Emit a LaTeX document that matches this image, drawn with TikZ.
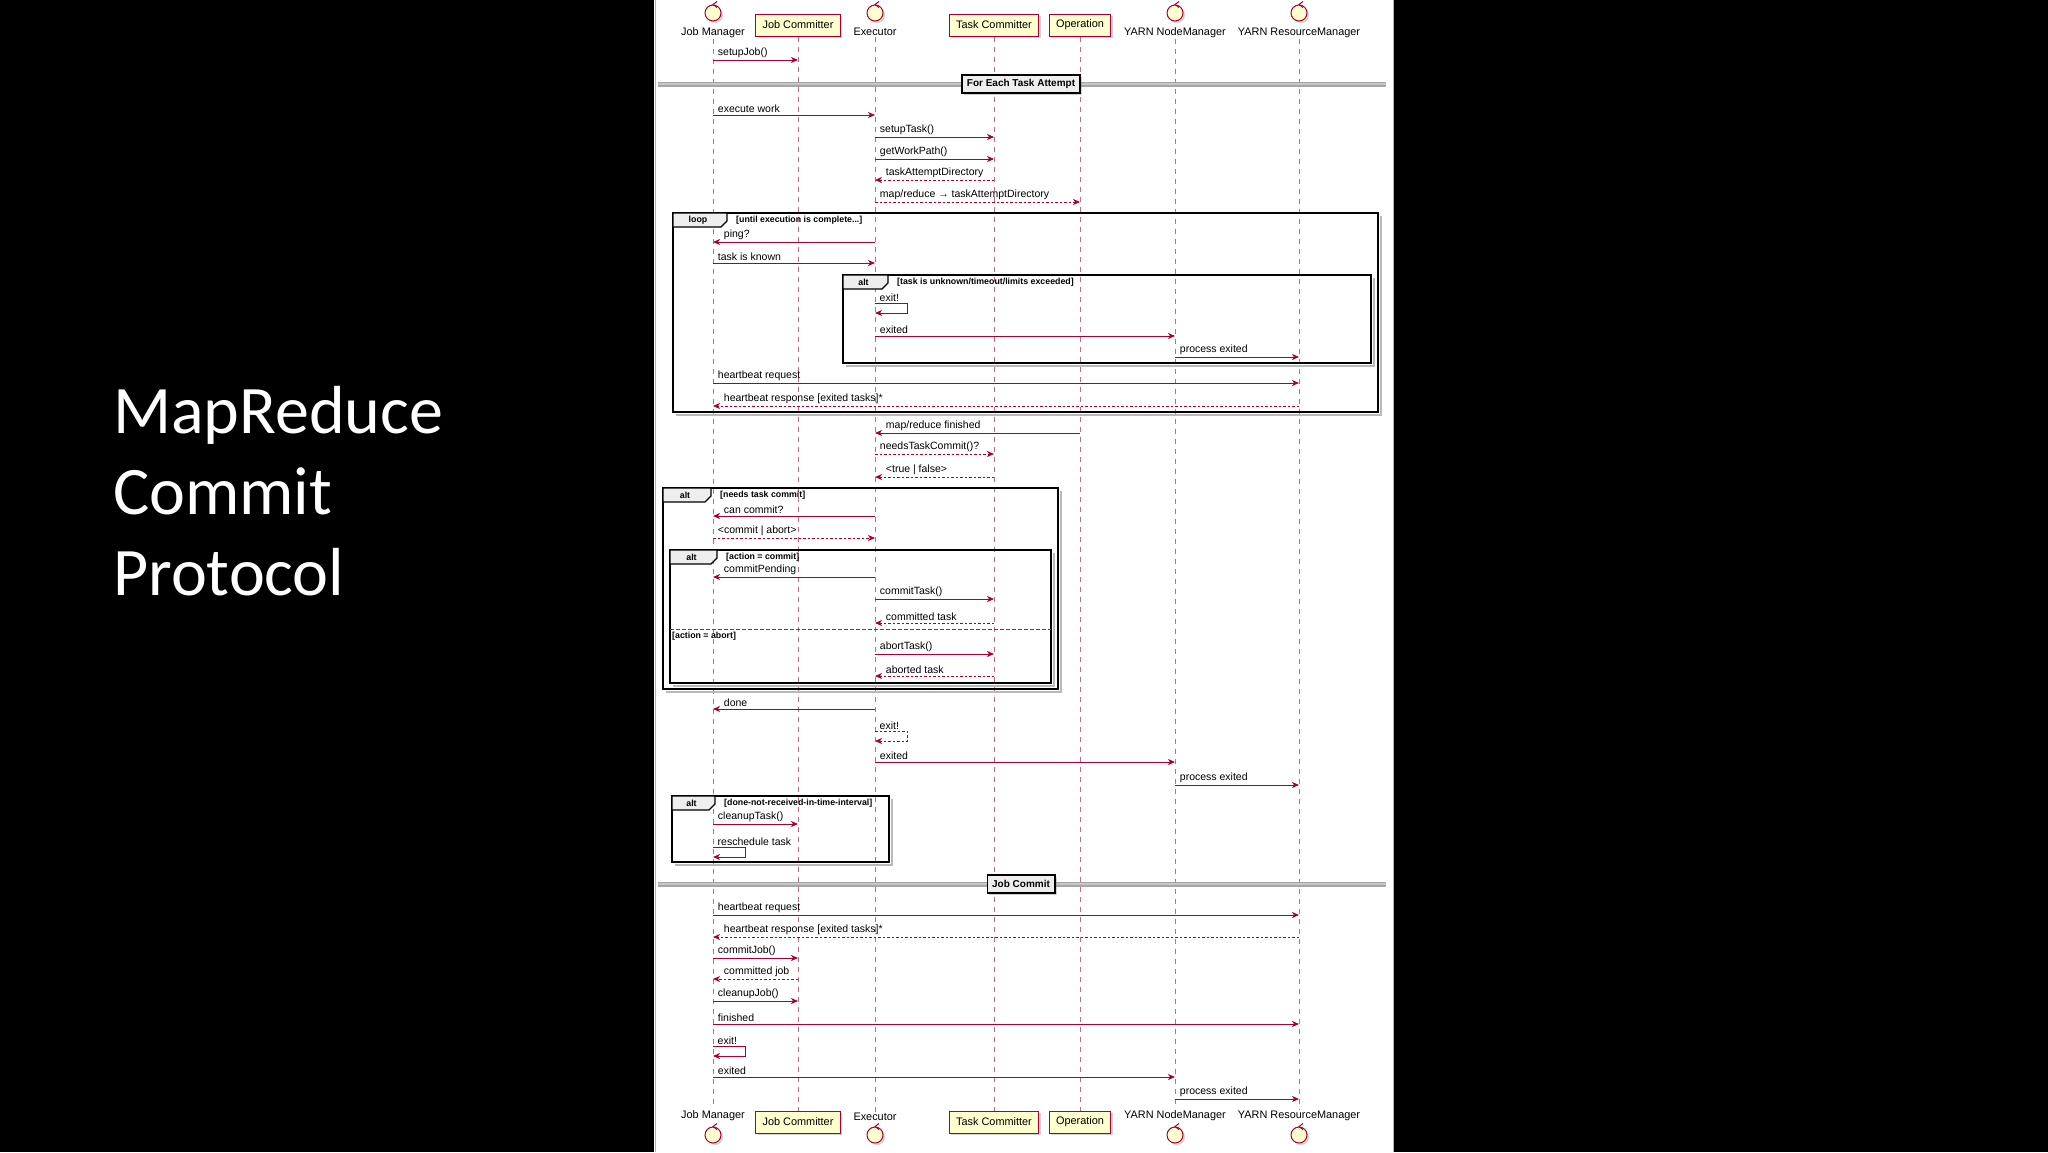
\documentclass[tikz,border=0pt]{standalone}
\usepackage{fontspec}
\setmainfont{Carlito}
\newfontfamily\umlfont{Liberation Sans}
\usetikzlibrary{arrows.meta, positioning, shadows}
\definecolor{umlred}{HTML}{A80036}
\definecolor{umlfill}{HTML}{FEFECE}
\definecolor{umlgrey}{HTML}{EEEEEE}
\tikzset{
    %Define standard arrow tip
    >={Stealth[length=7pt,width=6pt,inset=2pt]},
}
% messages: [style]{y}{from}{to}{text}
\newcommand{\rmsg}[5][call]{%
  \draw[#1, ->] (#3 |- 0,#2) -- (#4 |- 0,#2) node[lbl, pos=0, anchor=south west, xshift=3pt] {#5};}
\newcommand{\lmsg}[5][call]{%
  \draw[#1, ->] (#3 |- 0,#2) -- (#4 |- 0,#2) node[lbl, pos=1, anchor=south west, xshift=9pt] {#5};}
% self message: [style]{y}{on}{text}
\newcommand{\smsg}[4][call]{%
  \node[lbl, anchor=south west, xshift=3pt] at (#3 |- 0,#2) {#4};
  \draw[#1, ->] (#3 |- 0,#2) -- ++(32,0) -- ++(0,10) -- ++(-32,0);}
% combined fragment: x0 y0 x1 y1 kind guard tabwidth
\newcommand{\umlframe}[7]{%
  \draw[gray!55, line width=1.5pt] (#1+3,#4+3) -- (#3+3,#4+3) -- (#3+3,#2+3);
  \draw[frm] (#1,#2) rectangle (#3,#4);
  \draw[tab] (#1,#2) -- (#1+#7,#2) -- (#1+#7,#2+8) -- (#1+#7-6,#2+14) -- (#1,#2+14) -- cycle;
  \node[guard] at (#1+#7/2-2,#2+7) {#5};
  \node[guard, anchor=west] at (#1+#7+8,#2+7) {#6};}
% divider: y name text
\newcommand{\umldivider}[3]{%
  \draw[gray!70, line width=5pt] (658,#1) -- (1386,#1);
  \draw[gray!45, line width=1.6pt] (658,#1) -- (1386,#1);
  \node[divlbl, shd] (#2) at (1021,#1) {#3};}

\begin{document}
\begin{tikzpicture}[x=1pt, y=-1pt]
    \tikzset{
      shd/.style={drop shadow={opacity=0.35, shadow xshift=2pt, shadow yshift=-2pt}},
      ctrl/.style={draw=umlred, fill=umlfill, circle, line width=1pt,
                   minimum size=16pt, inner sep=0pt},
      pbox/.style={draw=umlred, fill=umlfill, rectangle, line width=1pt,
                   minimum height=22pt, inner xsep=7pt,
                   font=\umlfont\fontsize{10.9}{12}\selectfont},
      plbl/.style={inner sep=1pt, font=\umlfont\fontsize{10.9}{12}\selectfont},
      life/.style={draw=umlred!60, dash pattern=on 5pt off 5pt, line width=0.7pt},
      call/.style={draw=umlred, line width=0.9pt},
      reply/.style={call, dash pattern=on 2.5pt off 2pt},
      lbl/.style={inner sep=1.5pt, font=\umlfont\fontsize{10.5}{12}\selectfont},
      frm/.style={draw=black, line width=1.5pt},
      tab/.style={draw=black, fill=umlgrey, line width=1.1pt},
      guard/.style={inner sep=1pt, font=\umlfont\bfseries\fontsize{8.8}{10}\selectfont},
      divlbl/.style={draw=black, fill=umlgrey, line width=1.2pt, inner xsep=5pt,
                     minimum height=18pt, font=\umlfont\bfseries\fontsize{10}{11}\selectfont},
      title/.style={text=white, anchor=base west, inner sep=0pt,
                    font=\fontsize{68}{82}\selectfont},
    }
    \useasboundingbox (0,0) rectangle (2048,1152);
    \fill[black] (0,0) rectangle (2048,1152);
    \fill[white] (654,0) rectangle (1394,1152);
    \draw[gray!60, line width=0.8pt] (655,0) -- (655,1152) (1393,0) -- (1393,1152);

    % title
    \node[title] (t1) at (113,433) {MapReduce};
    \node[title] (t2) at (113,514) {Commit};
    \node[title] (t3) at (113,595) {Protocol};

    % participants, top
    \node[ctrl, shd] (jm) at (713,13) {};
    \node[plbl, below=5pt of jm] (jmL) {Job Manager};
    \node[pbox, shd] (jc) at (798,25) {Job Committer};
    \node[ctrl, shd] (ex) at (875,13) {};
    \node[plbl, below=5pt of ex] (exL) {Executor};
    \node[pbox, shd] (tc) at (994,25) {Task Committer};
    \node[pbox, shd] (op) at (1080,25) {Operation};
    \node[ctrl, shd] (nm) at (1175,13) {};
    \node[plbl, below=5pt of nm] (nmL) {YARN NodeManager};
    \node[ctrl, shd] (rm) at (1299,13) {};
    \node[plbl, below=5pt of rm] (rmL) {YARN ResourceManager};

    % participants, bottom
    \node[ctrl, shd] (jmB) at (713,1135) {};
    \node[plbl, above=5pt of jmB] (jmBL) {Job Manager};
    \node[pbox, shd] (jcB) at (798,1122) {Job Committer};
    \node[ctrl, shd] (exB) at (875,1135) {};
    \node[plbl, above=5pt of exB] (exBL) {Executor};
    \node[pbox, shd] (tcB) at (994,1122) {Task Committer};
    \node[pbox, shd] (opB) at (1080,1122) {Operation};
    \node[ctrl, shd] (nmB) at (1175,1135) {};
    \node[plbl, above=5pt of nmB] (nmBL) {YARN NodeManager};
    \node[ctrl, shd] (rmB) at (1299,1135) {};
    \node[plbl, above=5pt of rmB] (rmBL) {YARN ResourceManager};

    % control marks on the circles
    \foreach \c in {jm, ex, nm, rm, jmB, exB, nmB, rmB}
      \draw[umlred, line width=1pt] ([shift={(4,-3)}]\c.north) -- (\c.north) -- ([shift={(4,3)}]\c.north);

    % lifelines
    \path[life] (jmL) edge (jmBL)
                (jc) edge (jcB)
                (exL) edge (exBL)
                (tc) edge (tcB)
                (op) edge (opB)
                (nmL) edge (nmBL)
                (rmL) edge (rmBL);

    \rmsg{60}{jm}{jc}{setupJob()}
    \umldivider{84}{each}{For Each Task Attempt}
    \rmsg{115}{jm}{ex}{execute work}
    \rmsg{137}{ex}{tc}{setupTask()}
    \rmsg{159}{ex}{tc}{getWorkPath()}
    \lmsg[reply]{180}{tc}{ex}{taskAttemptDirectory}
    \rmsg[reply]{202}{ex}{op}{map/reduce → taskAttemptDirectory}

    % loop until done
    \umlframe{673}{213}{1378}{412}{loop}{[until execution is complete...]}{54}
    \lmsg{242}{ex}{jm}{ping?}
    \rmsg{263}{jm}{ex}{task is known}
    \umlframe{843}{275}{1371}{363}{alt}{[task is unknown/timeout/limits exceeded]}{45}
    \smsg{303}{ex}{exit!}
    \rmsg{336}{ex}{nm}{exited}
    \rmsg{357}{nm}{rm}{process exited}
    \rmsg{383}{jm}{rm}{heartbeat request}
    \lmsg[reply]{406}{rm}{jm}{heartbeat response [exited tasks]*}

    \lmsg{433}{op}{ex}{map/reduce finished}
    \rmsg[reply]{454}{ex}{tc}{needsTaskCommit()?}
    \lmsg[reply]{477}{tc}{ex}{<true | false>}

    % task commit
    \umlframe{663}{488}{1058}{689}{alt}{[needs task commit]}{48}
    \lmsg{516}{ex}{jm}{can commit?}
    \rmsg[reply]{538}{jm}{ex}{<commit | abort>}
    \umlframe{670}{550}{1051}{683}{alt}{[action = commit]}{47}
    \lmsg{577}{ex}{jm}{commitPending}
    \rmsg{599}{ex}{tc}{commitTask()}
    \lmsg[reply]{623}{tc}{ex}{committed task}
    \draw[black!70, dash pattern=on 4pt off 2pt, line width=0.8pt] (670,629) -- (1051,629);
    \node[guard, anchor=north west] (abort) at (671,631) {[action = abort]};
    \rmsg{654}{ex}{tc}{abortTask()}
    \lmsg[reply]{676}{tc}{ex}{aborted task}

    \lmsg{709}{ex}{jm}{done}
    \smsg[reply]{731}{ex}{exit!}
    \rmsg{762}{ex}{nm}{exited}
    \rmsg{785}{nm}{rm}{process exited}

    \umlframe{672}{796}{889}{862}{alt}{[done-not-received-in-time-interval]}{43}
    \rmsg{824}{jm}{jc}{cleanupTask()}
    \smsg{847}{jm}{reschedule task}

    % job commit
    \umldivider{884}{jobc}{Job Commit}
    \rmsg{915}{jm}{rm}{heartbeat request}
    \lmsg[reply]{937}{rm}{jm}{heartbeat response [exited tasks]*}
    \rmsg{958}{jm}{jc}{commitJob()}
    \lmsg[reply]{979}{jc}{jm}{committed job}
    \rmsg{1001}{jm}{jc}{cleanupJob()}
    \rmsg{1024}{jm}{rm}{finished}
    \smsg{1046}{jm}{exit!}
    \rmsg{1077}{jm}{nm}{exited}
    \rmsg{1099}{nm}{rm}{process exited}
\end{tikzpicture}
\end{document}
